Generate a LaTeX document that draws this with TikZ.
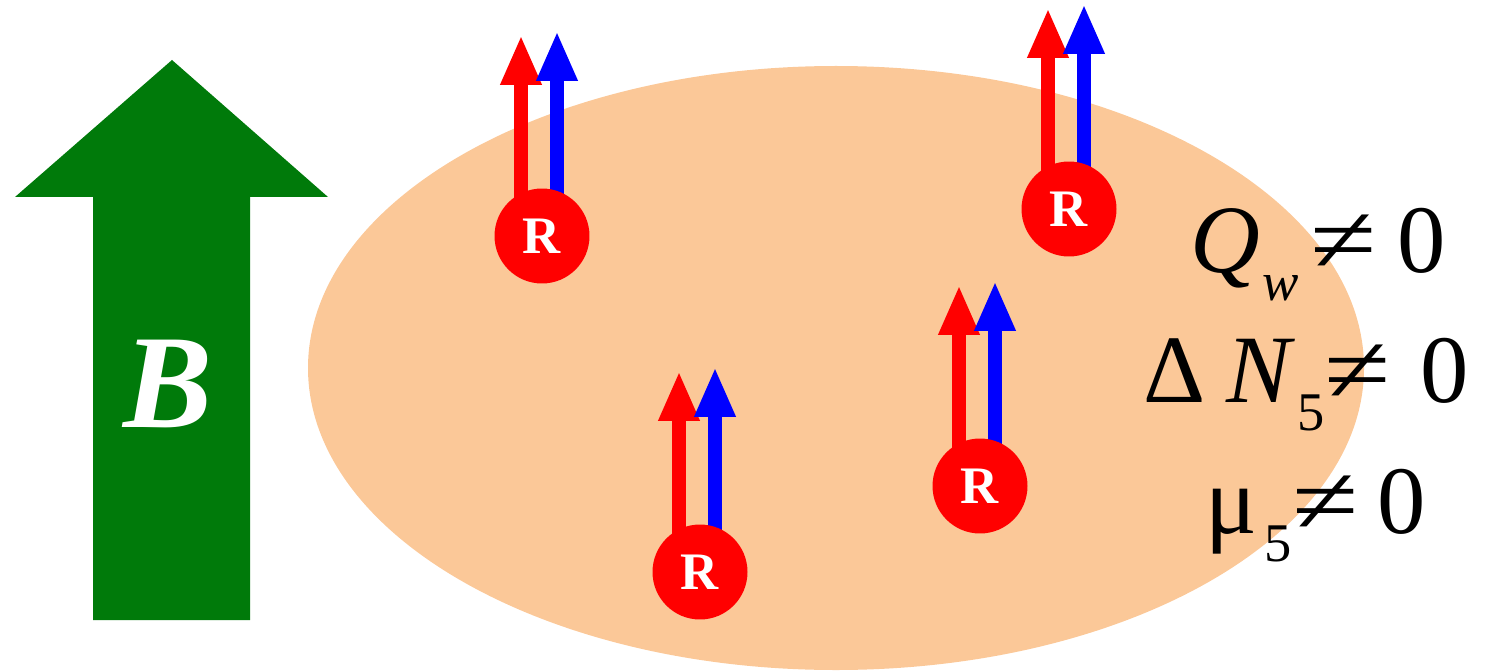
\documentclass[tikz,border=0pt]{standalone}
\usepackage{fontspec}
\setmainfont{Liberation Serif}
\usetikzlibrary{arrows.meta,calc}
\definecolor{peach}{RGB}{251,200,152}
\definecolor{bgreen}{RGB}{0,122,10}
\definecolor{pred}{RGB}{255,0,0}
\definecolor{pblue}{RGB}{0,0,255}
\pgfdeclarelayer{bg}
\pgfdeclarelayer{mid}
\pgfsetlayers{bg,mid,main}
\newcommand{\sbs}[1]{\raisebox{-0.3em}{\fontsize{31}{31}\selectfont #1}}
\newcommand{\neqw}{\scalebox{1.25}[1]{≠}}
\begin{document}
\begin{tikzpicture}[x=0.02cm,y=-0.02cm,
  spin/.style={line width=0.29cm,-{Triangle[length=1.0cm,width=0.76cm]}},
  particle/.style={circle,fill=pred,minimum size=1.9cm,inner sep=0pt,
    font=\fontsize{30}{30}\selectfont\bfseries,text=white},
  eq/.style={anchor=base west,inner sep=0pt,font=\fontsize{55}{60}\selectfont}]
\useasboundingbox (0,0) rectangle (1490,672);
\begin{pgfonlayer}{bg}
\fill[peach] (836,368) ellipse [x radius=528, y radius=302];
\end{pgfonlayer}
% magnetic field arrow
\fill[bgreen] (93,620) -- (93,197) -- (15,197) -- (172,60) -- (328,197) -- (250,197) -- (250,620) -- cycle;
\node[font=\fontsize{76}{76}\selectfont\bfseries\itshape,text=white] (B) at (168,384) {B};
% particles
\node[particle] (p1) at (542,236) {R};
\node[particle] (p2) at (1069,209) {R};
\node[particle] (p3) at (980,486) {R};
\node[particle] (p4) at (700,572) {R};
\foreach \p in {p1,p2,p3,p4}{
  \coordinate (\p r) at ($(\p.center)+(-21,-201)$);
  \coordinate (\p b) at ($(\p.center)+(15,-205)$);
}
\begin{pgfonlayer}{mid}
\foreach \p in {p1,p2,p3,p4}{
  \draw[spin,pred] ($(\p.center)+(-21,-30)$) -- (\p r);
  \draw[spin,pblue] ($(\p.center)+(15,-30)$) -- (\p b);
}
\end{pgfonlayer}
% labels
\node[eq] (q) at (1190,272) {\textit{Q}\hspace{0.02em}\sbs{\textit{w}}\hspace{0.12em}\neqw\hspace{0.22em}0};
\node[eq] (n) at (1143,402) {Δ\hspace{0.22em}\textit{N}\hspace{0.02em}\sbs{5}\neqw\hspace{0.3em}0};
\node[eq] (m) at (1205,533) {μ\hspace{0.08em}\sbs{5}\neqw\hspace{0.2em}0};
\end{tikzpicture}
\end{document}
